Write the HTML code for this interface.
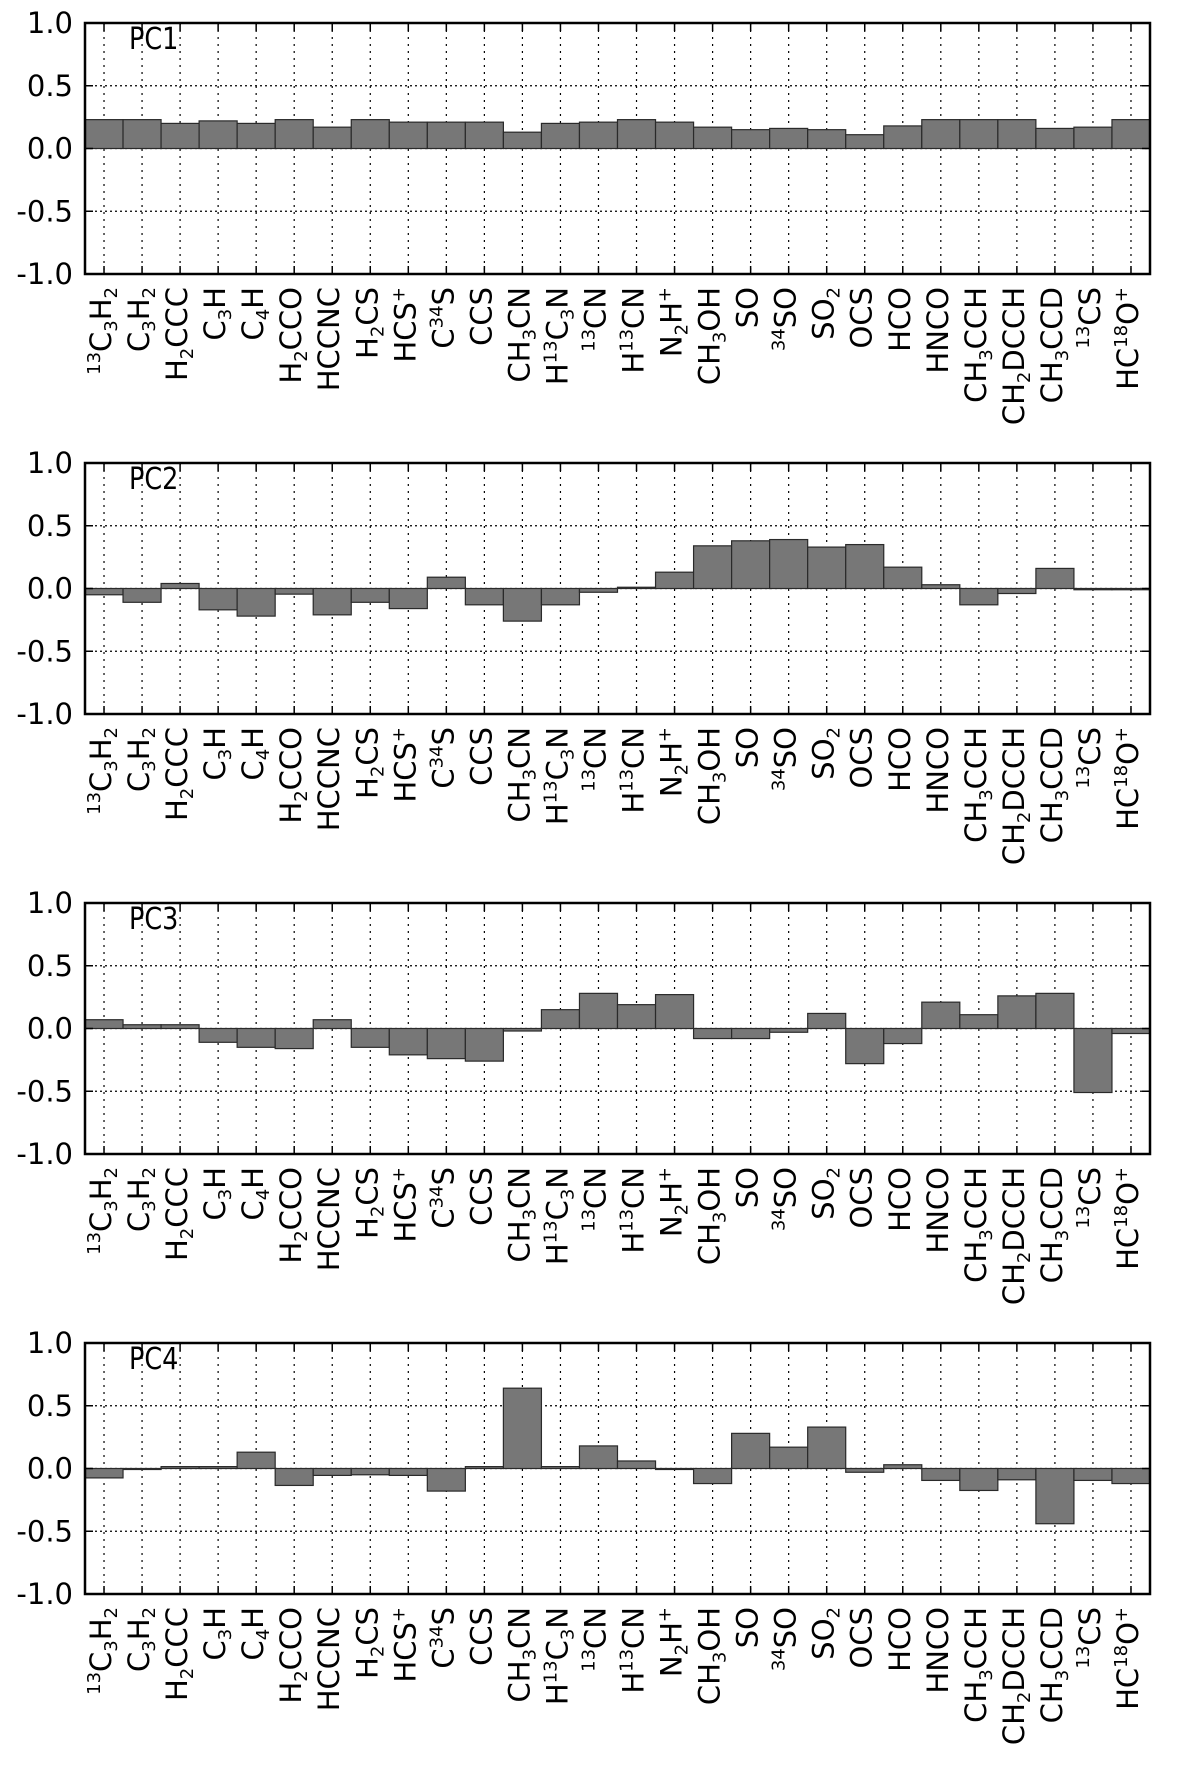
<!DOCTYPE html>
<html><head><meta charset="utf-8"><title>PCA loadings</title>
<style>
html,body{margin:0;padding:0;background:#fff;}
svg{display:block;font-family:"DejaVu Sans","Liberation Sans",sans-serif;}
</style></head>
<body>
<svg id="chart" width="1200" height="1773" viewBox="0 0 1200 1773" xmlns="http://www.w3.org/2000/svg"></svg>
<script>
const categories = ["^13C_3H_2","C_3H_2","H_2CCC","C_3H","C_4H","H_2CCO","HCCNC","H_2CS","HCS^+","C^34S","CCS","CH_3CN","H^13C_3N","^13CN","H^13CN","N_2H^+","CH_3OH","SO","^34SO","SO_2","OCS","HCO","HNCO","CH_3CCH","CH_2DCCH","CH_3CCD","^13CS","HC^18O^+"];
const pc1 = [0.23,0.23,0.20,0.22,0.20,0.23,0.17,0.23,0.21,0.21,0.21,0.13,0.20,0.21,0.23,0.21,0.17,0.15,0.16,0.15,0.11,0.18,0.23,0.23,0.23,0.16,0.17,0.23];
const pc2 = [-0.05,-0.11,0.04,-0.17,-0.22,-0.045,-0.21,-0.11,-0.16,0.09,-0.13,-0.26,-0.13,-0.03,0.01,0.13,0.34,0.38,0.39,0.33,0.35,0.17,0.03,-0.13,-0.04,0.16,-0.01,-0.01];
const pc3 = [0.07,0.03,0.03,-0.11,-0.15,-0.16,0.07,-0.15,-0.21,-0.24,-0.26,-0.02,0.15,0.28,0.19,0.27,-0.08,-0.08,-0.03,0.12,-0.28,-0.12,0.21,0.11,0.26,0.28,-0.51,-0.04];
const pc4 = [-0.075,0.0,0.015,0.015,0.13,-0.135,-0.055,-0.05,-0.055,-0.18,0.015,0.64,0.015,0.18,0.06,0.0,-0.12,0.28,0.17,0.33,-0.03,0.03,-0.095,-0.175,-0.09,-0.44,-0.095,-0.12];
const panelNames = ["PC1","PC2","PC3","PC4"];
const yTicks = [1.0,0.5,0.0,-0.5,-1.0];
const yTickLabels = ["1.0","0.5","0.0","-0.5","-1.0"];

const series = [pc1,pc2,pc3,pc4];
const NS = "http://www.w3.org/2000/svg";
const svg = document.getElementById("chart");
const L = 85, R = 1150, H = 251, TOP0 = 23, GAP = 440;
const n = categories.length;
const bw = (R - L) / n;

function mk(tag, attrs, parent){
  const e = document.createElementNS(NS, tag);
  for (const k in attrs) e.setAttribute(k, attrs[k]);
  parent.appendChild(e);
  return e;
}

series.forEach((vals, p) => {
  const top = TOP0 + p * GAP;
  const yScale = v => top + (1 - v) / 2 * H;
  const xScale = i => L + i * bw;
  const g = mk("g", {}, svg);
  
  

  for (let i = 0; i < n; i++) {
    const x = xScale(i + 0.5);
    const gl = mk("line", {x1:x, x2:x, y1:top, y2:top+H, stroke:"#000", "stroke-width":1.2, "stroke-dasharray":"2,5"}, g);
    
    
  }
  yTicks.forEach(t => {
    if (t === 1 || t === -1) return;
    const y = yScale(t);
    const gl = mk("line", {x1:L, x2:R, y1:y, y2:y, stroke:"#000", "stroke-width":1.2, "stroke-dasharray":"2,3"}, g);
    
    
  });

  vals.forEach((v, i) => {
    const y0 = yScale(0), y1 = yScale(v);
    const b = mk("rect", {x:xScale(i), y:Math.min(y0,y1), width:bw, height:Math.max(Math.abs(y1-y0),1), fill:"#777777", stroke:"#2a2a2a", "stroke-width":1.2}, g);
    
    
  });

  for (let i = 0; i < n; i++) {
    const x = xScale(i + 0.5);
    mk("line", {x1:x, x2:x, y1:top+H, y2:top+H-8, stroke:"#000", "stroke-width":1.5}, g);
    mk("line", {x1:x, x2:x, y1:top, y2:top+8, stroke:"#000", "stroke-width":1.5}, g);
  }
  yTicks.forEach((t, k) => {
    const y = yScale(t);
    mk("line", {x1:L, x2:L+8, y1:y, y2:y, stroke:"#000", "stroke-width":1.5}, g);
    mk("line", {x1:R, x2:R-8, y1:y, y2:y, stroke:"#000", "stroke-width":1.5}, g);
    const tl = mk("text", {x:73, y:y+10, "text-anchor":"end", "font-size":29, fill:"#000"}, g);
    tl.textContent = yTickLabels[k];
    
    
  });

  const fr = mk("rect", {x:L, y:top, width:R-L, height:H, fill:"none", stroke:"#000", "stroke-width":2.5}, g);
  
  

  const pt = mk("text", {x:0, y:0, "font-size":30, fill:"#000", transform:"translate(129," + (top+26) + ") scale(0.85,1)"}, g);
  pt.textContent = panelNames[p];
  
  

  categories.forEach((c, i) => {
    const cx = xScale(i + 0.5) + 7;
    const t = mk("text", {"font-size":29, "text-anchor":"end", fill:"#000", transform:"translate(" + cx + "," + (top+H+13) + ") rotate(-90)"}, g);
    
    
    const re = /([_^])(\d+|\+)|([^_^]+)/g;
    let m, cur = 0;
    while ((m = re.exec(c)) !== null) {
      const ts = document.createElementNS(NS, "tspan");
      let target = 0;
      if (m[3]) { ts.textContent = m[3]; ts.setAttribute("font-size", 29); target = 0; }
      else { ts.textContent = m[2]; ts.setAttribute("font-size", 18); target = m[1] === "_" ? 6 : -11; }
      ts.setAttribute("dy", target - cur);
      cur = target;
      t.appendChild(ts);
    }
  });
});
</script>
</body></html>
